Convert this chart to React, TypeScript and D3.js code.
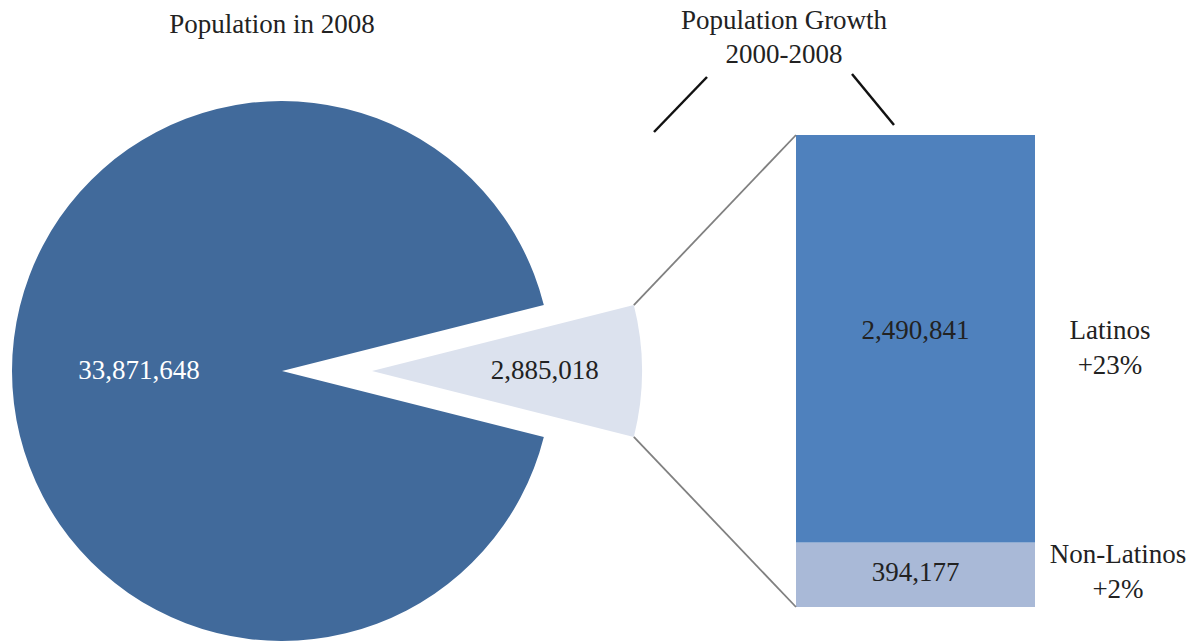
import { useRef, useEffect } from "react";
import * as d3 from "d3";

// pie: population in 2008, split into the part gained since 2000
const pieLabels = ["Growth 2000-2008", "Population 2000"];
const pieValues = [2885018, 33871648];
const pieColors = ["#dce2ee", "#416a9b"];

// bar: breakdown of the growth
const barGroups = ["Non-Latinos", "Latinos"];
const barValues = [394177, 2490841];
const barPct = ["+2%", "+23%"];
const barColors = ["#a9b9d7", "#4f81bd"];

const fmt = d3.format(",");

export default function App() {
  const ref = useRef<SVGSVGElement>(null);

  useEffect(() => {
    const width = 1204;
    const height = 641;
    const fs = 27;
    const svg = d3.select(ref.current)
      .attr("width", width)
      .attr("height", height)
      .style("display", "block")
      .style("font-family", "'Liberation Serif', serif");
    svg.selectAll("*").remove();

    // --- pie ---
    const cx = 282, cy = 371, r = 270, explode = 90;
    const total = d3.sum(pieValues);
    const half = Math.PI * pieValues[0] / total;
    const pie = d3.pie<number>().sort(null)
      .startAngle(Math.PI / 2 - half)
      .endAngle(Math.PI / 2 - half + 2 * Math.PI);
    const arcs = pie(pieValues);
    const arc = d3.arc<d3.PieArcDatum<number>>().innerRadius(0).outerRadius(r);

    const slices = svg.append("g").selectAll("g")
      .data(arcs)
      .join("g")
      .attr("transform", (d, i) => `translate(${cx + (i === 0 ? explode : 0)},${cy})`);

    slices.append("path")
      .attr("d", arc)
      .attr("fill", (d, i) => pieColors[i]);

    const labelR = [0.64 * r, 0.53 * r];
    slices.append("text")
      .attr("x", (d, i) => labelR[i] * Math.sin((d.startAngle + d.endAngle) / 2))
      .attr("y", (d, i) => -labelR[i] * Math.cos((d.startAngle + d.endAngle) / 2) + 8)
      .attr("text-anchor", "middle")
      .attr("font-size", fs)
      .attr("fill", (d, i) => (i === 0 ? "#222" : "#fff"))
      .text(d => fmt(d.data));

    svg.append("text")
      .attr("x", 272).attr("y", 33)
      .attr("text-anchor", "middle")
      .attr("font-size", fs)
      .attr("fill", "#222")
      .text("Population in 2008");

    // --- bar ---
    const x = d3.scaleBand().domain(["growth"]).range([796, 1035]).padding(0);
    const y = d3.scaleLinear().domain([0, d3.sum(barValues)]).range([607, 135]);
    const stacked = barValues.map((v, i) => {
      const y0 = d3.sum(barValues.slice(0, i));
      return { key: barGroups[i], v, y0, y1: y0 + v, i };
    });

    const bx = x("growth")!;
    const bw = x.bandwidth();

    svg.append("g").selectAll("rect")
      .data(stacked)
      .join("rect")
      .attr("x", bx)
      .attr("y", d => y(d.y1))
      .attr("width", bw)
      .attr("height", d => y(d.y0) - y(d.y1))
      .attr("fill", d => barColors[d.i]);

    svg.append("g").selectAll("text")
      .data(stacked)
      .join("text")
      .attr("x", bx + bw / 2)
      .attr("y", d => (d.i === 0 ? y(d.y0) - 26 : y((d.y0 + d.y1) / 2)))
      .attr("text-anchor", "middle")
      .attr("font-size", fs)
      .attr("fill", "#222")
      .text(d => fmt(d.v));

    const side = svg.append("g").selectAll("text")
      .data(stacked)
      .join("text")
      .attr("text-anchor", "middle")
      .attr("font-size", fs)
      .attr("fill", "#222")
      .attr("transform", d => `translate(${d.i === 0 ? 1118 : 1110},${d.i === 0 ? y(d.y0) - 44 : y((d.y0 + d.y1) / 2)})`);
    side.append("tspan").attr("x", 0).attr("y", 0).text(d => d.key);
    side.append("tspan").attr("x", 0).attr("y", 35).text(d => barPct[d.i]);

    // connector lines from exploded slice to bar
    const s = arcs[0];
    const corner = (a: number) => [cx + explode + r * Math.sin(a), cy - r * Math.cos(a)];
    const [tx, ty] = corner(s.startAngle);
    const [bx2, by2] = corner(s.endAngle);
    svg.append("line")
      .attr("x1", tx).attr("y1", ty).attr("x2", bx).attr("y2", y(d3.sum(barValues)))
      .attr("stroke", "#808080").attr("stroke-width", 1.8);
    svg.append("line")
      .attr("x1", bx2).attr("y1", by2).attr("x2", bx).attr("y2", y(0))
      .attr("stroke", "#808080").attr("stroke-width", 1.8);

    // growth title and its brackets
    const title = svg.append("text")
      .attr("text-anchor", "middle")
      .attr("font-size", fs)
      .attr("fill", "#222");
    title.append("tspan").attr("x", 784).attr("y", 29).text("Population Growth");
    title.append("tspan").attr("x", 784).attr("y", 63).text("2000-2008");

    svg.append("line")
      .attr("x1", 707).attr("y1", 77).attr("x2", 654).attr("y2", 132)
      .attr("stroke", "#111").attr("stroke-width", 2.5);
    svg.append("line")
      .attr("x1", 852).attr("y1", 74).attr("x2", 894).attr("y2", 125)
      .attr("stroke", "#111").attr("stroke-width", 2.5);
  }, []);

  return (
    <div style={{ position: "absolute", left: 0, top: 0, background: "#fff" }}>
      <svg ref={ref}></svg>
    </div>
  );
}
